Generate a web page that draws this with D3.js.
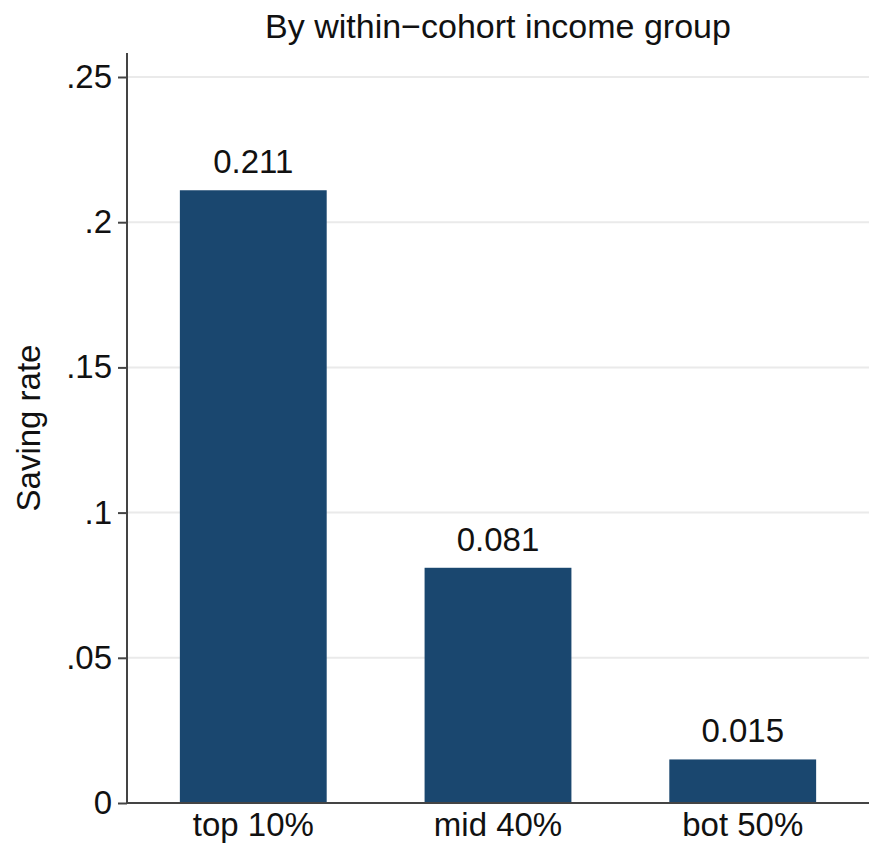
<!DOCTYPE html>
<html>
<head>
<meta charset="utf-8">
<script src="https://cdn.jsdelivr.net/npm/d3@7"></script>
<style>
  html, body { margin: 0; padding: 0; background: #ffffff; }
  text { font-family: "Liberation Sans", Arial, Helvetica, sans-serif; fill: #111; }
</style>
</head>
<body>
<svg id="chart" width="869" height="845"></svg>
<script>
const categories = ["top 10%", "mid 40%", "bot 50%"];
const values = [0.211, 0.081, 0.015];
const valueLabels = ["0.211", "0.081", "0.015"];
const yTicks = [0, 0.05, 0.1, 0.15, 0.2, 0.25];
const yTickLabels = ["0", ".05", ".1", ".15", ".2", ".25"];
const title = "By within\u2212cohort income group";
const yTitle = "Saving rate";

const W = 869, H = 845;
const x0 = 127, x1 = 869, yBottom = 803, yTop = 77, axisTop = 53;
const FS = 33;
const svg = d3.select("#chart");

const x = d3.scaleBand().domain(categories).range([x0, x1]).paddingInner(0.4).paddingOuter(0.216);
const y = d3.scaleLinear().domain([0, 0.25]).range([yBottom, yTop]);

// gridlines
svg.append("g").selectAll("line").data(yTicks.filter(t => t > 0)).join("line")
  .attr("x1", x0).attr("x2", x1)
  .attr("y1", d => y(d)).attr("y2", d => y(d))
  .attr("stroke", "#eaeaea").attr("stroke-width", 2);

// bars
svg.append("g").selectAll("rect").data(values).join("rect")
  .attr("x", (d, i) => x(categories[i]))
  .attr("width", x.bandwidth())
  .attr("y", d => y(d))
  .attr("height", d => y(0) - y(d))
  .attr("fill", "#1a476f");

// bar labels
svg.append("g").selectAll("text").data(values).join("text")
  .attr("x", (d, i) => x(categories[i]) + x.bandwidth() / 2)
  .attr("y", d => y(d) - 17)
  .attr("text-anchor", "middle")
  .attr("font-size", FS)
  .text((d, i) => valueLabels[i]);

// y axis
const yAxis = d3.axisLeft(y).tickValues(yTicks).tickFormat((d, i) => yTickLabels[i]).tickSize(9).tickPadding(6);
const gy = svg.append("g").attr("transform", `translate(${x0},0)`).call(yAxis);
gy.select(".domain").remove();
gy.selectAll(".tick line").attr("stroke", "#444").attr("stroke-width", 2);
gy.selectAll(".tick text").attr("font-size", FS).attr("font-family", "Liberation Sans, Arial, sans-serif").attr("fill", "#111");
svg.append("line").attr("x1", x0).attr("x2", x0).attr("y1", axisTop).attr("y2", yBottom + 1)
  .attr("stroke", "#444").attr("stroke-width", 2);

// x axis
const xAxis = d3.axisBottom(x).tickSize(0).tickPadding(10);
const gx = svg.append("g").attr("transform", `translate(0,${yBottom})`).call(xAxis);
gx.select(".domain").remove();
gx.selectAll(".tick text").attr("font-size", FS).attr("font-family", "Liberation Sans, Arial, sans-serif").attr("fill", "#111");
svg.append("line").attr("x1", x0 - 1).attr("x2", x1).attr("y1", yBottom).attr("y2", yBottom)
  .attr("stroke", "#444").attr("stroke-width", 2);

// title
svg.append("text").attr("x", (x0 + x1) / 2).attr("y", 38).attr("text-anchor", "middle")
  .attr("font-size", 34).text(title);

// y title
svg.append("text").attr("transform", `translate(40,428) rotate(-90)`)
  .attr("text-anchor", "middle").attr("font-size", FS).text(yTitle);
</script>
</body>
</html>
